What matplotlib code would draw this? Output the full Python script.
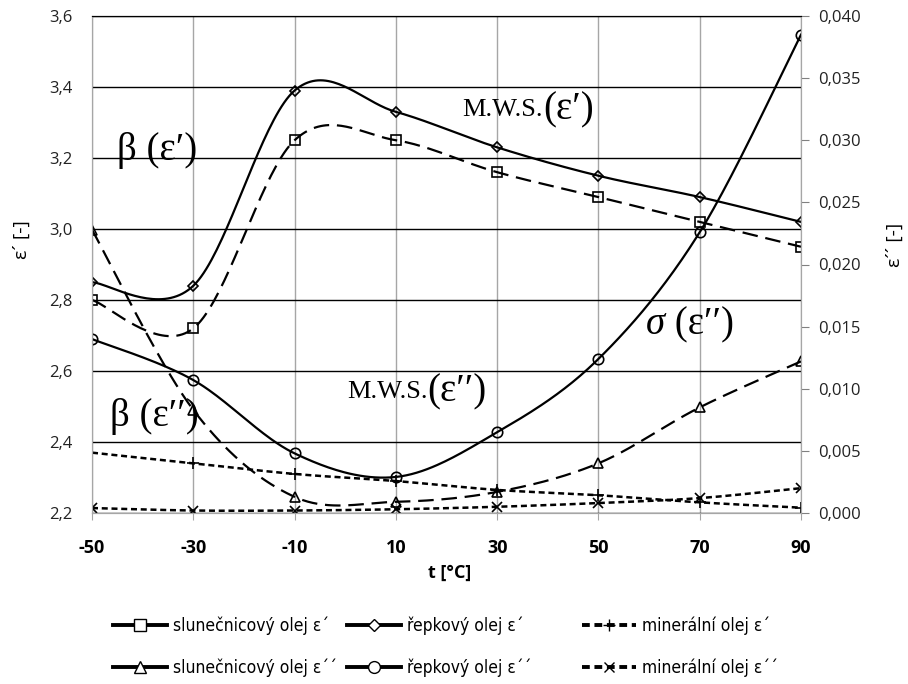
import numpy as np
import matplotlib
matplotlib.use('Agg')
import matplotlib.pyplot as plt
from matplotlib.lines import Line2D
from matplotlib.ticker import FuncFormatter
from matplotlib.font_manager import FontProperties, fontManager

plt.rcParams['axes.unicode_minus'] = False

# data
t = [-50, -30, -10, 10, 30, 50, 70, 90]
sun_e1 = [2.80, 2.72, 3.25, 3.25, 3.16, 3.09, 3.02, 2.95]
rap_e1 = [2.85, 2.84, 3.39, 3.33, 3.23, 3.15, 3.09, 3.02]
min_e1 = [2.37, 2.34, 2.31, 2.29, 2.265, 2.25, 2.23, 2.215]
sun_e2 = [0.0228, 0.0083, 0.0013, 0.0009, 0.0017, 0.0040, 0.0085, 0.0122]
rap_e2 = [0.0140, 0.0107, 0.0048, 0.0029, 0.0065, 0.0124, 0.0226, 0.0385]
min_e2 = [0.0004, 0.0002, 0.0002, 0.0003, 0.0005, 0.0008, 0.0012, 0.0020]

labels = ['slunečnicový olej ε´', 'řepkový olej ε´', 'minerální olej ε´',
          'slunečnicový olej ε´´', 'řepkový olej ε´´', 'minerální olej ε´´']
yticks1 = [2.2, 2.4, 2.6, 2.8, 3.0, 3.2, 3.4, 3.6]
yticks2 = [0.0, 0.005, 0.010, 0.015, 0.020, 0.025, 0.030, 0.035, 0.040]

SANS = ['Open Sans', 'DejaVu Sans']
SERIF = ['Liberation Serif', 'DejaVu Serif']


def smooth(x, y, n=40):
    # excel-like smoothed line (bezier through points)
    x = np.asarray(x, float)
    y = np.asarray(y, float)
    xs, ys = [], []
    s = np.linspace(0, 1, n)
    for i in range(len(x) - 1):
        i0 = max(i - 1, 0)
        i3 = min(i + 2, len(x) - 1)
        p0 = np.array([x[i], y[i]])
        p3 = np.array([x[i + 1], y[i + 1]])
        p1 = p0 + (np.array([x[i + 1], y[i + 1]]) - np.array([x[i0], y[i0]])) / 6
        p2 = p3 - (np.array([x[i3], y[i3]]) - np.array([x[i], y[i]])) / 6
        pts = ((1 - s) ** 3)[:, None] * p0 + (3 * (1 - s) ** 2 * s)[:, None] * p1 \
            + (3 * (1 - s) * s ** 2)[:, None] * p2 + (s ** 3)[:, None] * p3
        xs.extend(pts[:, 0])
        ys.extend(pts[:, 1])
    return xs, ys


fig = plt.figure(figsize=(9.08, 6.84), dpi=100)
ax1 = fig.add_axes([92 / 908, 1 - 513 / 684, (801 - 92) / 908, (513 - 16) / 684])
ax2 = ax1.twinx()

long_dash = dict(ls=(0, (7, 3.5)))
short_dash = dict(ls=(0, (2.4, 1.5)))

series = [
    (ax1, sun_e1, 's', 7, 1.6, long_dash),
    (ax1, rap_e1, 'D', 5.5, 1.6, {}),
    (ax1, min_e1, '+', 8, 1.8, short_dash),
    (ax2, sun_e2, '^', 7, 1.6, long_dash),
    (ax2, rap_e2, 'o', 7.5, 1.6, {}),
    (ax2, min_e2, 'x', 6.5, 1.8, short_dash),
]
for ax, vals, mk, ms, lw, st in series:
    sx, sy = smooth(t, vals)
    ax.plot(sx, sy, color='black', lw=lw, **st)
    ax.plot(t, vals, ls='none', marker=mk, ms=ms, mfc='none', mec='black', mew=1.2)

ax1.set_xlim(-50, 90)
ax1.set_xticks(t)
ax1.set_ylim(2.2, 3.6)
ax1.set_yticks(yticks1)
ax2.set_ylim(0, 0.04)
ax2.set_yticks(yticks2)

ax1.yaxis.set_major_formatter(FuncFormatter(lambda v, p: f'{v:.1f}'.replace('.', ',')))
ax2.yaxis.set_major_formatter(FuncFormatter(lambda v, p: f'{v:.3f}'.replace('.', ',')))

ax1.set_axisbelow(True)
ax1.yaxis.grid(True, color='black', lw=1)
ax1.xaxis.grid(True, color='#a6a6a6', lw=1)

for ax in (ax1, ax2):
    for sp in ax.spines.values():
        sp.set_color('#a6a6a6')
    ax.spines['top'].set_color('black')

ax1.tick_params(axis='y', length=0, pad=14)
ax1.tick_params(axis='x', length=5, direction='out', color='#a6a6a6', pad=14)
ax2.tick_params(axis='y', length=6, direction='out', color='#808080', pad=6)

for lab in ax1.get_yticklabels() + ax2.get_yticklabels():
    lab.set_fontfamily(SANS)
    lab.set_fontsize(12)
    lab.set_color('#222222')
for lab in ax1.get_xticklabels():
    lab.set_fontfamily(SANS)
    lab.set_fontsize(13)
    lab.set_fontweight('bold')

fig.text(450 / 908, 1 - 573 / 684, 't [°C]', ha='center', va='center',
         family=SANS, fontsize=13, fontweight='bold')
fig.text(22 / 908, 1 - 240 / 684, 'ε´ [-]', rotation=90, ha='center', va='center',
         family=SANS, fontsize=14)
fig.text(895 / 908, 1 - 245 / 684, 'ε´´ [-]', rotation=90, ha='center', va='center',
         family=SANS, fontsize=14)

# curve annotations
for x, y, s in [(-45.1, 3.22, 'β (ε′)'), (-46.4, 2.473, 'β (ε′′)')]:
    ax1.text(x, y, s, ha='left', va='center', family=SERIF, fontsize=28)

sig = ax1.text(59.4, 2.73, 'σ', ha='left', va='center', family=SERIF, fontsize=28,
               fontstyle='italic')
ax1.annotate(' (ε′′)', xy=(1, 0.5), xycoords=sig, ha='left', va='center',
             family=SERIF, fontsize=28)

for x, y, e in [(23.2, 3.335, '(ε′)'), (0.3, 2.541, '(ε′′)')]:
    mws = ax1.text(x, y, 'M.W.S.', ha='left', va='center', family=SERIF, fontsize=19)
    ax1.annotate(e, xy=(1, 0.5), xycoords=mws, ha='left', va='center',
                 family=SERIF, fontsize=28)

# legend: narrow font if one is installed
names = {(f.name, f.stretch) for f in fontManager.ttflist}
if any(n == 'Liberation Sans Narrow' for n, s in names):
    leg_font = FontProperties(family='Liberation Sans Narrow', size=15.5)
elif ('DejaVu Sans', 'condensed') in names or ('DejaVu Sans', 'semi-condensed') in names:
    leg_font = FontProperties(family='DejaVu Sans', stretch='condensed', size=12.5)
else:
    leg_font = FontProperties(family='DejaVu Sans', size=11.3)

h = []
for mk, ms, st in [('s', 8, '-'), ('D', 6, '-'), ('+', 9, (0, (2, 1.2))),
                   ('^', 8, '-'), ('o', 8.5, '-'), ('x', 7, (0, (2, 1.2)))]:
    h.append(Line2D([], [], color='black', lw=2.8, ls=st, marker=mk, ms=ms,
                    mfc='white', mec='black', mew=1))
hl = 54 / (leg_font.get_size_in_points() * 100 / 72)
for col, x0 in enumerate([113, 347, 582]):
    fig.legend(handles=[h[col], h[col + 3]], labels=[labels[col], labels[col + 3]],
               loc='center left', bbox_to_anchor=(x0 / 908, 1 - 646.5 / 684),
               frameon=False, prop=leg_font, handlelength=hl, handletextpad=0.35,
               labelspacing=1.5 * 11.3 / leg_font.get_size_in_points(),
               borderpad=0, borderaxespad=0)

fig.savefig('out.png', dpi=100)
